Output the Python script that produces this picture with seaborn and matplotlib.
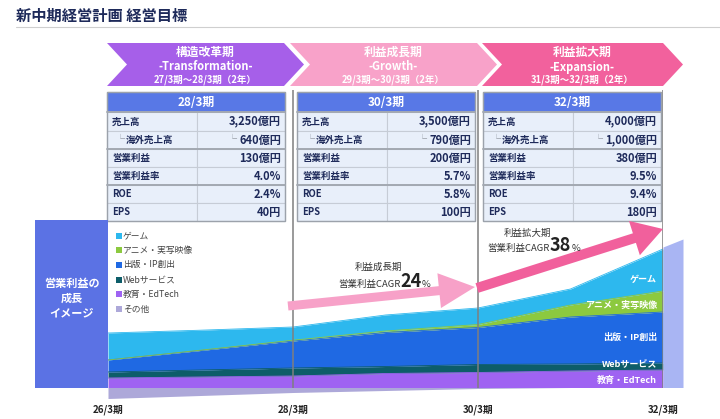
import numpy as np
import pandas as pd
import matplotlib.pyplot as plt
from matplotlib.patches import Polygon, Rectangle, FancyArrow
import seaborn as sns

# ---- data (stack values are image units) ----
periods = ['26/3期', '27/3期', '28/3期', '29/3期', '30/3期', '31/3期', '32/3期']
segments = ['教育・EdTech', 'Webサービス', '出版・IP創出', 'アニメ・実写映像', 'ゲーム']
edtech = [9.5, 10.5, 11.5, 14, 15, 16.5, 17.5]
web = [6, 7, 8, 7, 8, 7, 7]
publishing = [12, 19.5, 27, 34, 37, 47, 51]
anime = [0, 0.3, 0.8, 1.5, 3, 12, 21]
game = [27, 20, 13.2, 16, 16.5, 16, 42]
other = [11, 8, 5, 3, 1, 0, 0]
seg_colors = ['#9F63F2', '#0D5D69', '#1F69E3', '#8CC93F', '#2DB8EE']
other_color = '#ADA8D9'

phase_names = ['構造改革期', '利益成長期', '利益拡大期']
phase_en = ['-Transformation-', '-Growth-', '-Expansion-']
phase_span = ['27/3期～28/3期（2年）', '29/3期～30/3期（2年）', '31/3期～32/3期（2年）']
phase_colors = ['#A65FE9', '#F8A2C9', '#F2619D']

table_periods = ['28/3期', '30/3期', '32/3期']
row_labels = ['売上高', '海外売上高', '営業利益', '営業利益率', 'ROE', 'EPS']
sales = ['3,250億円', '3,500億円', '4,000億円']
overseas = ['640億円', '790億円', '1,000億円']
op_profit = ['130億円', '200億円', '380億円']
op_margin = ['4.0%', '5.7%', '9.5%']
roe = ['2.4%', '5.8%', '9.4%']
eps = ['40円', '100円', '180円']
cagr_phase = ['利益成長期', '利益拡大期']
cagr = ['24', '38']

sns.set_theme(style='white')
plt.rcParams['font.family'] = ['Noto Sans CJK JP', 'DejaVu Sans']
navy = '#1E2A5A'

fig = plt.figure(figsize=(7.2, 4.19), dpi=100)
bg = fig.add_axes([0, 0, 1, 1])
bg.set_xlim(0, 720)
bg.set_ylim(419, 0)
bg.axis('off')

# title
bg.text(16, 16, '新中期経営計画 経営目標', fontsize=11, weight='bold', color=navy, va='center')
bg.plot([16, 720], [27, 27], color='#CFCFCF', lw=0.8)

# phase chevrons
chev = [(107, 284), (290, 477), (482, 663)]
for (L, R), col, nm, en, sp in zip(chev, phase_colors, phase_names, phase_en, phase_span):
    pts = [(L, 43), (R, 43), (R + 20, 64.5), (R, 86), (L, 86), (L + 20, 64.5)]
    bg.add_patch(Polygon(pts, closed=True, fc=col, ec='none'))
    cx = (L + R) / 2 + 10
    bg.text(cx, 52, nm, ha='center', va='center', color='white', weight='bold', fontsize=8.5)
    bg.text(cx, 67, en, ha='center', va='center', color='white', weight='bold', fontsize=8)
    bg.text(cx, 80, sp, ha='center', va='center', color='white', weight='bold', fontsize=6.8)

# tables
table_left = [107, 297, 483]
tw, split = 178, 90
edges = [92, 112, 131, 149, 167, 185, 203, 221]
values = [sales, overseas, op_profit, op_margin, roe, eps]
fig.canvas.draw()
rend = fig.canvas.get_renderer()
for i, L in enumerate(table_left):
    bg.add_patch(Rectangle((L, edges[0]), tw, edges[1] - edges[0], fc='#5878E6', ec='#8A93A3', lw=0.8))
    bg.text(L + tw / 2, (edges[0] + edges[1]) / 2, table_periods[i], ha='center', va='center',
            color='white', weight='bold', fontsize=8.5)
    for r, lab in enumerate(row_labels):
        y0, y1 = edges[r + 1], edges[r + 2]
        yc = (y0 + y1) / 2
        bg.add_patch(Rectangle((L, y0), split, y1 - y0, fc='#E8EFFA', ec='#C6CCD6', lw=0.8))
        bg.add_patch(Rectangle((L + split, y0), tw - split, y1 - y0, fc='#E8EFFA', ec='#C6CCD6', lw=0.8))
        if r == 1:
            bg.text(L + 9, yc, '└', ha='left', va='center', color='#9AA0AA', fontsize=6.5)
            bg.text(L + 19, yc, lab, ha='left', va='center', color=navy, weight='bold', fontsize=6.8)
        else:
            bg.text(L + 5, yc, lab, ha='left', va='center', color=navy, weight='bold', fontsize=6.8)
        t = bg.text(L + tw - 4, yc + 0.5, values[r][i], ha='right', va='center', color=navy,
                    weight='bold', fontsize=8)
        if r == 1:
            x0 = t.get_window_extent(rend).x0
            bg.text(x0 - 2, yc, '└', ha='right', va='center', color='#9AA0AA', fontsize=6.5)
    for ysep in (edges[1], edges[3], edges[5]):
        bg.plot([L, L + tw], [ysep, ysep], color='#A3A9B2', lw=1.4)
    bg.add_patch(Rectangle((L, edges[0]), tw, edges[-1] - edges[0], fc='none', ec='#9CA2AB', lw=1.0))

# left label box
bg.add_patch(Rectangle((35, 220), 73, 168, fc='#5B72E4', ec='none'))
bg.text(71.5, 298, '営業利益の\n成長\nイメージ', ha='center', va='center', color='white',
        weight='bold', fontsize=8, linespacing=1.15)

# ---- stacked area chart ----
x = np.arange(len(periods))
ax = fig.add_axes([108 / 720, 19 / 419, 555 / 720, 310 / 419], zorder=2)
ax.patch.set_alpha(0)
layers = [edtech, web, publishing, anime, game]
ax.stackplot(x, *layers, colors=seg_colors, lw=0)
tops = np.cumsum(np.array(layers, dtype=float), axis=0)
df = pd.DataFrame({
    'idx': np.tile(x, len(segments)),
    'top': tops.ravel(),
    'segment': np.repeat(segments, len(x)),
})
sns.lineplot(data=df, x='idx', y='top', hue='segment', palette=dict(zip(segments, seg_colors)),
             lw=0.6, legend=False, ax=ax)
ax.fill_between(x, -np.array(other), 0, color=other_color, lw=0)
# side face at the right end of the stack
side_x = np.array([x[-1], x[-1] + 20 / 92.5])
ax.fill_between(side_x, 0, tops[-1, -1] + np.array([2, 10]), color='#A9B5F3', lw=0, clip_on=False)
ax.vlines([2, 4, 6], 0, 297.5, color='#7F7F7F', lw=1.1)
ax.set_xlim(0, 6)
ax.set_ylim(-12.5, 297.5)
ax.set_xticks(x[::2])
ax.set_xticklabels(periods[::2], fontsize=7, weight='bold', color='#222222')
ax.tick_params(axis='x', length=0, pad=3)
ax.set_yticks([])
ax.set_xlabel('')
ax.set_ylabel('')
for s in ax.spines.values():
    s.set_visible(False)

# ---- overlay: arrows, legend, labels ----
top = fig.add_axes([0, 0, 1, 1], zorder=3)
top.set_xlim(0, 720)
top.set_ylim(419, 0)
top.axis('off')
top.add_patch(FancyArrow(288, 306, 187, -19, width=9, head_width=35, head_length=36,
                         length_includes_head=True, fc='#F7A1C8', ec='none'))
top.add_patch(FancyArrow(477, 288, 186, -59, width=10, head_width=36, head_length=30,
                         length_includes_head=True, fc='#F1609C', ec='none'))

leg_labels = segments[::-1] + ['その他']
leg_colors = seg_colors[::-1] + [other_color]
for k, (lab, col) in enumerate(zip(leg_labels, leg_colors)):
    yy = 235.5 + k * 14.7
    top.scatter([118.5], [yy], marker='s', s=14, color=col, lw=0)
    top.text(123, yy, lab, ha='left', va='center', fontsize=6.3, color='#444444')

seg_label_y = [380, 365, 337, 305, 279]
for lab, yy in zip(segments, seg_label_y):
    top.text(657, yy, lab, ha='right', va='center', fontsize=6.5, color='white', weight='bold')

cagr_pos = [(338, 378, 267, 287), (487, 527, 233, 251)]
for (xs, xc, yt, yb), ph, val in zip(cagr_pos, cagr_phase, cagr):
    top.text(xc, yt, ph, ha='center', va='center', fontsize=6.8, color='#333333')
    t1 = top.text(xs, yb, '営業利益CAGR', ha='left', va='baseline', fontsize=6.8, color='#333333')
    x1 = t1.get_window_extent(rend).x1
    t2 = top.text(x1, yb, val, ha='left', va='baseline', fontsize=13, weight='bold', color='#222222')
    x2 = t2.get_window_extent(rend).x1
    top.text(x2 + 0.5, yb, '%', ha='left', va='baseline', fontsize=6.8, color='#333333')

fig.savefig('out.png', dpi=100)
